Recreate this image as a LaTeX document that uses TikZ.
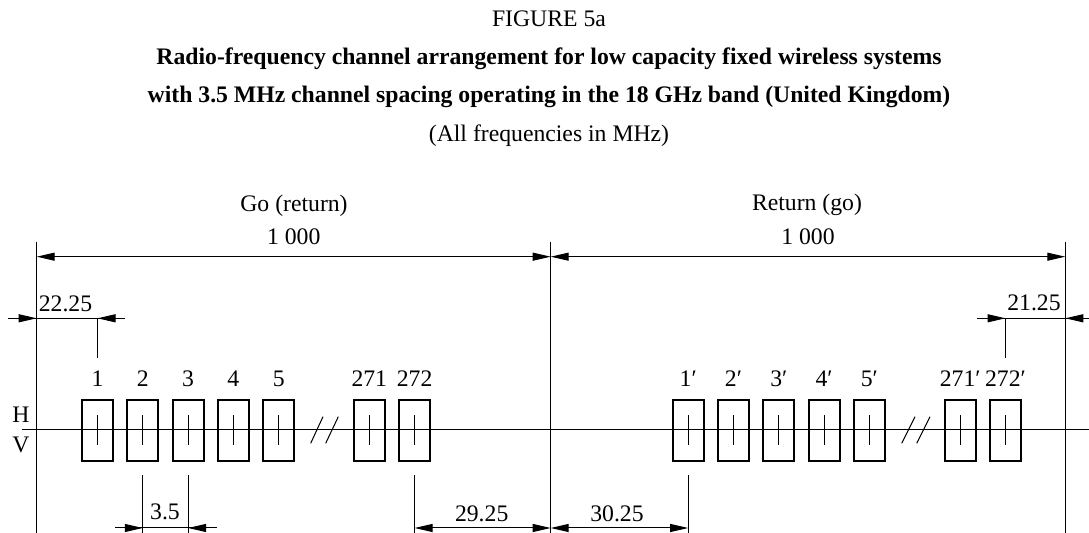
\documentclass[tikz,border=0pt]{standalone}
\usepackage{fontspec}
\setmainfont{Liberation Serif}
\usetikzlibrary{arrows.meta}

\tikzset{
  hair/.style={line width=0.5pt},
  chbox/.style={draw,line width=1pt,minimum width=15.5pt,minimum height=30.5pt,inner sep=0pt},
  dimto/.style={hair,-{Triangle[length=9pt,width=4pt]}},
  dimboth/.style={hair,{Triangle[length=9pt,width=4pt]}-{Triangle[length=9pt,width=4pt]}},
  txt/.style={font=\fontsize{11.85}{14}\selectfont,inner sep=0pt,anchor=base},
}

\begin{document}
\begin{tikzpicture}[x=0.5pt,y=-0.5pt]
    \useasboundingbox (0,0) rectangle (1089,533);
    % title
    \node[txt] (fig) at (549,27) {FIGURE 5a};
    \node[txt] (tl1) at (549,65) {\bfseries Radio-frequency channel arrangement for low capacity fixed wireless systems};
    \node[txt] (tl2) at (549,103) {\bfseries with 3.5 MHz channel spacing operating in the 18 GHz band (United Kingdom)};
    \node[txt] (tl3) at (549,142) {(All frequencies in MHz)};
    % band edges
    \coordinate (bot) at (0,533);
    \coordinate (BL) at (36.7,241.7);
    \coordinate (BM) at (550.7,241.7);
    \coordinate (BR) at (1065.3,241.7);
    \foreach \c in {BL,BM,BR}
        \draw[hair] (\c) -- (\c |- bot);
    % H/V axis
    \coordinate (ax0) at (21.7,430);
    \coordinate (ax1) at (1089,430);
    \draw[hair] (ax0) -- (ax1);
    \node[txt] (pH) at (21,423) {H};
    \node[txt] (pV) at (21,453) {V};
    % go / return halves
    \coordinate (top) at (0,256.7);
    \draw[dimboth] (BL |- top) -- (BM |- top);
    \draw[dimboth] (BM |- top) -- (BR |- top);
    \node[txt] (go) at (294,211.7) {Go (return)};
    \node[txt] (ret) at (807,210.7) {Return (go)};
    \node[txt] (w1) at (293.7,245) {1 000};
    \node[txt] (w2) at (808,245) {1 000};
    % go channels
    \foreach \x/\t [count=\i] in {97.5/1,142.8/2,188.1/3,233.4/4,278.7/5,369.3/271,414.6/272} {
        \node[chbox] (g\i) at (\x,430.5) {};
        \draw[hair] (g\i.center) ++(0,-15) -- ++(0,30);
        \node[txt] (gl\i) at (\x,387) {\t};
    }
    % return channels
    \foreach \x/\t [count=\i] in {688.2/1,733.5/2,778.8/3,824.1/4,869.4/5,960.2/271,1005.5/272} {
        \node[chbox] (r\i) at (\x,430.5) {};
        \draw[hair] (r\i.center) ++(0,-15) -- ++(0,30);
        \node[txt] (rl\i) at (\x,387) {\t′};
    }
    % break marks
    \draw[hair] (310.7,443.3) -- (323,416.7) (325.7,443.3) -- (338.3,416.7);
    \draw[hair] (901.7,443.3) -- (915,416.7) (916.7,443.3) -- (930,416.7);
    % 22.25
    \coordinate (up) at (0,318.3);
    \coordinate (ext) at (0,357.7);
    \draw[hair] (g1 |- up) -- (g1 |- ext);
    \draw[hair] (8,318.3) -- (125,318.3);
    \draw[dimto] (8,318.3) -- (BL |- up);
    \draw[dimto] (125,318.3) -- (g1 |- up);
    \node[txt] (a1) at (65.5,311.7) {22.25};
    % 21.25
    \draw[hair] (r7 |- up) -- (r7 |- ext);
    \draw[hair] (977.3,318.3) -- (1089,318.3);
    \draw[dimto] (977.3,318.3) -- (r7 |- up);
    \draw[dimto] (1089,318.3) -- (BR |- up);
    \node[txt] (a2) at (1034,310.3) {21.25};
    % lower dimensions
    \coordinate (lo) at (0,475.5);
    \coordinate (dn) at (0,528);
    \foreach \n in {g2,g3,g7,r1}
        \draw[hair] (\n |- lo) -- (\n |- bot);
    \draw[hair] (115,528) -- (217,528);
    \draw[dimto] (115,528) -- (g2 |- dn);
    \draw[dimto] (217,528) -- (g3 |- dn);
    \node[txt] (a3) at (165,520) {3.5};
    \draw[dimboth] (g7 |- dn) -- (BM |- dn);
    \node[txt] (a4) at (481.7,521.7) {29.25};
    \draw[dimboth] (BM |- dn) -- (r1 |- dn);
    \node[txt] (a5) at (617,521.7) {30.25};
\end{tikzpicture}
\end{document}
